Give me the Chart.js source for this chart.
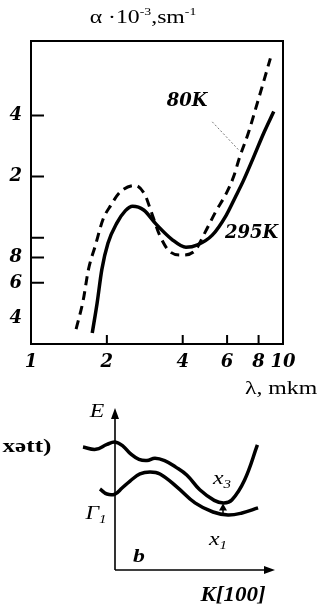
<!DOCTYPE html>
<html>
<head>
<meta charset="utf-8">
<script src="https://cdn.jsdelivr.net/npm/chart.js@4.4.1/dist/chart.umd.min.js"></script>
<style>
  html, body { margin:0; padding:0; background:#fff; }
  body { width:324px; height:612px; position:relative; overflow:hidden; font-family:'Liberation Serif','Times New Roman',serif; color:#000; }
  canvas { position:absolute; left:0; }
  #c1 { top:0; }
  #c2 { top:380px; }
  .t { position:absolute; white-space:nowrap; line-height:1; transform:translate(-50%,-50%) scaleX(1.25); }
  .it { font-style:italic; }
  .bd { font-weight:bold; }
  .sup { font-size:11px; position:relative; top:-8px; }
  .sub { font-size:12px; position:relative; top:4px; }
</style>
</head>
<body>
<canvas id="c1" width="324" height="380"></canvas>
<canvas id="c2" width="324" height="232"></canvas>

<div class="t" style="left:143px; top:16px; font-size:19px;">α ·10<span class="sup">-3</span>,sm<span class="sup">-1</span></div>
<div class="t" style="left:281px; top:387px; font-size:19px;">λ, mkm</div>
<div class="t bd" style="left:27px; top:446px; font-size:18px; transform:translate(-50%,-50%) scaleX(1.4);">xətt)</div>
<div class="t it" style="left:97px; top:410px; font-size:19px;">E</div>
<div class="t it" style="left:96px; top:512px; font-size:19px;">Γ<span class="sub">1</span></div>
<div class="t it bd" style="left:139px; top:555px; font-size:19px;">b</div>
<div class="t it" style="left:222px; top:477px; font-size:19px;">x<span class="sub">3</span></div>
<div class="t it" style="left:218px; top:538px; font-size:19px;">x<span class="sub">1</span></div>
<div class="t it bd" style="left:233px; top:594px; font-size:20px; transform:translate(-50%,-50%) scaleX(1.15);">K[100]</div>

<script>
// ---- Absorption spectra (λ in μm, α in 10^3 cm^-1) ----
const lambda295 = [1.75, 1.83, 1.91, 2.02, 2.19, 2.37, 2.53, 2.80, 3.13, 3.62, 4.12, 4.58, 5.24, 5.95, 6.46, 6.95, 7.63, 8.38, 9.19];
const alpha295  = [0.34, 0.478, 0.697, 0.939, 1.18, 1.36, 1.43, 1.37, 1.17, 0.983, 0.898, 0.923, 1.03, 1.29, 1.58, 1.90, 2.48, 3.27, 4.18];
const lambda80  = [1.51, 1.61, 1.69, 1.80, 1.93, 2.07, 2.26, 2.59, 2.83, 2.99, 3.24, 3.54, 3.96, 4.45, 4.90, 5.40, 5.95, 6.37, 6.72, 7.28, 7.79, 8.25, 8.91];
const alpha80   = [0.355, 0.49, 0.697, 0.915, 1.23, 1.44, 1.68, 1.81, 1.63, 1.36, 1.03, 0.859, 0.822, 0.859, 1.06, 1.34, 1.65, 2.0, 2.48, 3.27, 4.32, 5.50, 7.64];

const xTickValues = [1, 2, 4, 6, 8, 10];
const xTickLabels = ['1', '2', '4', '6', '8', '10'];
const xTickMarks  = [2, 4, 6, 8];
const yTickValues = [0.4, 0.6, 0.8, 1, 2, 4];
const yTickLabels = ['4', '6', '8', '', '2', '4'];
const yTickMarks  = [0.6, 0.8, 1, 2, 4];

const label80  = { text: '80K',  lambda: 4.16, alpha: 4.67 };
const label295 = { text: '295K', lambda: 7.5, alpha: 1.05 };
const leader80 = { from: [5.24, 3.72], to: [6.68, 2.70] };

// ---- Band schematic (arbitrary units) ----
const upperK = [-0.20, -0.12, -0.05, 0.0, 0.05, 0.10, 0.15, 0.20, 0.25, 0.31, 0.38, 0.45, 0.53, 0.62, 0.68, 0.73, 0.81, 0.89];
const upperE = [0.759, 0.745, 0.775, 0.790, 0.765, 0.715, 0.683, 0.676, 0.690, 0.675, 0.635, 0.585, 0.495, 0.430, 0.414, 0.432, 0.556, 0.772];
const lowerK = [-0.094, -0.05, 0.0, 0.044, 0.094, 0.156, 0.219, 0.281, 0.388, 0.50, 0.6125, 0.706, 0.794, 0.894];
const lowerE = [0.50, 0.469, 0.469, 0.506, 0.549, 0.593, 0.605, 0.593, 0.512, 0.414, 0.358, 0.340, 0.352, 0.383];
const transition = { k: 0.675, from: 0.345, to: 0.41 };

const zip = (xs, ys) => xs.map((x, i) => ({ x: x, y: ys[i] }));
const tickFont = { family: "'DejaVu Serif',serif", size: 18, style: 'italic', weight: 'bold' };

const framePlugin = {
  id: 'frame',
  afterDatasetsDraw(chart) {
    const ctx = chart.ctx, a = chart.chartArea, sx = chart.scales.x, sy = chart.scales.y;
    ctx.save();
    ctx.strokeStyle = '#000';
    ctx.lineWidth = 2;
    ctx.strokeRect(a.left, a.top, a.right - a.left, a.bottom - a.top);
    ctx.beginPath();
    yTickMarks.forEach(v => { const y = sy.getPixelForValue(v); ctx.moveTo(a.left, y); ctx.lineTo(a.left + 13, y); });
    xTickMarks.forEach(v => { const x = sx.getPixelForValue(v); ctx.moveTo(x, a.bottom); ctx.lineTo(x, a.bottom - 9); });
    ctx.stroke();
    // leader line
    ctx.lineWidth = 0.8;
    ctx.strokeStyle = '#555';
    ctx.setLineDash([2, 2]);
    ctx.beginPath();
    ctx.moveTo(sx.getPixelForValue(leader80.from[0]), sy.getPixelForValue(leader80.from[1]));
    ctx.lineTo(sx.getPixelForValue(leader80.to[0]), sy.getPixelForValue(leader80.to[1]));
    ctx.stroke();
    ctx.setLineDash([]);
    // curve labels
    ctx.fillStyle = '#000';
    ctx.textAlign = 'center';
    ctx.textBaseline = 'middle';
    ctx.font = "italic bold 18px 'DejaVu Serif',serif";
    ctx.fillText(label80.text, sx.getPixelForValue(label80.lambda), sy.getPixelForValue(label80.alpha));
    ctx.fillText(label295.text, sx.getPixelForValue(label295.lambda), sy.getPixelForValue(label295.alpha));
    ctx.restore();
  }
};

new Chart(document.getElementById('c1'), {
  type: 'line',
  data: {
    datasets: [
      { label: '295K', data: zip(lambda295, alpha295), borderColor: '#000', borderWidth: 3.5, pointRadius: 0, cubicInterpolationMode: 'monotone', fill: false },
      { label: '80K', data: zip(lambda80, alpha80), borderColor: '#000', borderWidth: 3, borderDash: [9, 6], pointRadius: 0, cubicInterpolationMode: 'monotone', fill: false }
    ]
  },
  options: {
    responsive: false,
    animation: false,
    events: [],
    layout: { padding: { top: 41, right: 41, left: 0, bottom: 0 } },
    plugins: { legend: { display: false }, tooltip: { enabled: false } },
    scales: {
      x: {
        type: 'logarithmic', min: 1, max: 10,
        grid: { display: false, drawTicks: false },
        border: { display: false },
        afterFit: s => { s.height = 36; },
        afterBuildTicks: s => { s.ticks = xTickValues.map(v => ({ value: v })); },
        ticks: { autoSkip: false, maxRotation: 0, padding: 8, color: '#000', font: tickFont, callback: (v, i) => xTickLabels[i] }
      },
      y: {
        type: 'logarithmic', min: 0.336, max: 9.3,
        grid: { display: false, drawTicks: false },
        border: { display: false },
        afterFit: s => { s.width = 31; },
        afterBuildTicks: s => { s.ticks = yTickValues.map(v => ({ value: v })); },
        ticks: { autoSkip: false, padding: 9, color: '#000', font: tickFont, callback: (v, i) => yTickLabels[i] }
      }
    }
  },
  plugins: [framePlugin]
});

const axesPlugin = {
  id: 'bandAxes',
  afterDatasetsDraw(chart) {
    const ctx = chart.ctx, sx = chart.scales.x, sy = chart.scales.y;
    const x0 = sx.getPixelForValue(0), y0 = sy.getPixelForValue(0);
    const xe = sx.getPixelForValue(1), ye = sy.getPixelForValue(1);
    ctx.save();
    ctx.strokeStyle = '#000'; ctx.fillStyle = '#000'; ctx.lineWidth = 1.6;
    ctx.beginPath();
    ctx.moveTo(x0, y0); ctx.lineTo(x0, ye + 8);
    ctx.moveTo(x0, y0); ctx.lineTo(xe - 8, y0);
    ctx.stroke();
    ctx.beginPath(); ctx.moveTo(x0, ye); ctx.lineTo(x0 - 4, ye + 11); ctx.lineTo(x0 + 4, ye + 11); ctx.closePath(); ctx.fill();
    ctx.beginPath(); ctx.moveTo(xe, y0); ctx.lineTo(xe - 11, y0 - 4); ctx.lineTo(xe - 11, y0 + 4); ctx.closePath(); ctx.fill();
    // transition arrow
    const xt = sx.getPixelForValue(transition.k), y1 = sy.getPixelForValue(transition.from), y2 = sy.getPixelForValue(transition.to);
    ctx.lineWidth = 1.5;
    ctx.beginPath(); ctx.moveTo(xt, y1); ctx.lineTo(xt, y2 + 4); ctx.stroke();
    ctx.beginPath(); ctx.moveTo(xt, y2); ctx.lineTo(xt - 4, y2 + 7); ctx.lineTo(xt + 4, y2 + 7); ctx.closePath(); ctx.fill();
    ctx.restore();
  }
};

new Chart(document.getElementById('c2'), {
  type: 'scatter',
  data: {
    datasets: [
      { label: 'upper', data: zip(upperK, upperE), showLine: true, borderColor: '#000', borderWidth: 3.5, pointRadius: 0, tension: 0.4 },
      { label: 'lower', data: zip(lowerK, lowerE), showLine: true, borderColor: '#000', borderWidth: 3.5, pointRadius: 0, tension: 0.4 }
    ]
  },
  options: {
    responsive: false,
    animation: false,
    events: [],
    layout: { padding: { left: 75, right: 49, top: 28, bottom: 42 } },
    plugins: { legend: { display: false }, tooltip: { enabled: false } },
    scales: {
      x: { type: 'linear', min: -0.25, max: 1.0, display: false },
      y: { type: 'linear', min: 0, max: 1, display: false }
    }
  },
  plugins: [axesPlugin]
});
</script>
</body>
</html>
